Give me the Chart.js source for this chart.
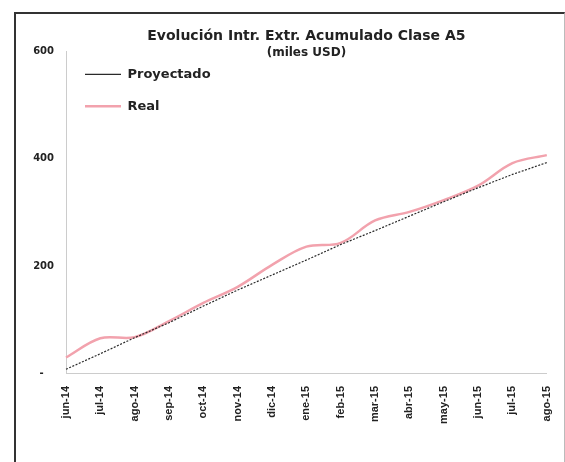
<!DOCTYPE html>
<html>
<head>
<meta charset="utf-8">
<script src="https://cdn.jsdelivr.net/npm/chart.js@4/dist/chart.umd.min.js"></script>
<style>
  html, body { margin: 0; padding: 0; background: #fff; }
  #frame {
    position: absolute; left: 14px; top: 12px; width: 548px; height: 452px;
    border-top: 2px solid #333; border-left: 2px solid #333; border-right: 1px solid #bbb;
  }
  #wrap { position: absolute; left: 0; top: 0; width: 565px; height: 462px; }
</style>
</head>
<body>
<div id="frame"></div>
<div id="wrap"><canvas id="chart" width="565" height="462"></canvas></div>
<script>
// meses (eje x)
const meses = ['jun-14', 'jul-14', 'ago-14', 'sep-14', 'oct-14', 'nov-14', 'dic-14', 'ene-15',
               'feb-15', 'mar-15', 'abr-15', 'may-15', 'jun-15', 'jul-15', 'ago-15'];
// miles USD
const proyectado = [7, 36, 66, 94, 125, 155, 183, 211, 240, 266, 293, 320, 346, 371, 393];
const real = [29, 65, 67, 97, 131, 161, 202, 236, 243, 285, 301, 323, 350, 392, 407];
const yTicks = [0, 200, 400, 600];

const fuente = "'DejaVu Sans', Verdana, sans-serif";
const fuenteEje = "'Liberation Sans', Arial, sans-serif";

// la leyenda va dentro del area del grafico, arriba a la izquierda
const leyendaArriba = {
  id: 'leyendaArriba',
  afterLayout(chart) {
    chart.legend.top = chart.chartArea.top - 3;
  }
};

new Chart(document.getElementById('chart'), {
  type: 'line',
  data: {
    labels: meses,
    datasets: [{
      label: 'Proyectado',
      data: proyectado,
      borderColor: '#2a2a2a',
      backgroundColor: '#2a2a2a',
      borderWidth: 1.2,
      borderDash: [2, 1.5],
      pointRadius: 0,
      tension: 0
    }, {
      label: 'Real',
      data: real,
      borderColor: '#f2a2ad',
      backgroundColor: '#f2a2ad',
      borderWidth: 2.5,
      pointRadius: 0,
      tension: 0.35
    }]
  },
  options: {
    responsive: false,
    animation: false,
    layout: { padding: { left: 0, right: 17, top: 0, bottom: 0 } },
    plugins: {
      title: {
        display: true,
        fullSize: false,
        text: 'Evolución Intr. Extr. Acumulado Clase A5',
        color: '#222',
        font: { family: fuente, size: 14, weight: 'bold', lineHeight: 1.2 },
        padding: { top: 28, bottom: 0 }
      },
      subtitle: {
        display: true,
        fullSize: false,
        text: '(miles USD)',
        color: '#222',
        font: { family: fuente, size: 12, weight: 'bold', lineHeight: 1 },
        padding: { top: 2, bottom: -7 }
      },
      legend: {
        position: 'chartArea',
        align: 'start',
        labels: {
          color: '#222',
          font: { family: fuente, size: 13, weight: 'bold' },
          usePointStyle: true,
          pointStyle: 'line',
          pointStyleWidth: 36,
          padding: 19
        }
      },
      tooltip: { enabled: false }
    },
    scales: {
      x: {
        offset: false,
        grid: { display: false },
        border: { color: '#ccc', dash: [2, 2] },
        ticks: {
          color: '#222',
          font: { family: fuenteEje, size: 11, weight: 'bold' },
          minRotation: 90, maxRotation: 90,
          autoSkip: false,
          padding: 5
        },
        afterFit: (s) => { s.height = 89; }
      },
      y: {
        min: 0, max: 600,
        afterBuildTicks: (s) => { s.ticks = yTicks.map(v => ({ value: v })); },
        grid: { display: false },
        border: { color: '#ccc' },
        ticks: {
          color: '#222',
          font: { family: fuente, size: 10, weight: 'bold' },
          padding: 4,
          callback: (v) => v === 0 ? '-   ' : v
        },
        afterFit: (s) => { s.width = 66; }
      }
    }
  },
  plugins: [leyendaArriba]
});
</script>
</body>
</html>
